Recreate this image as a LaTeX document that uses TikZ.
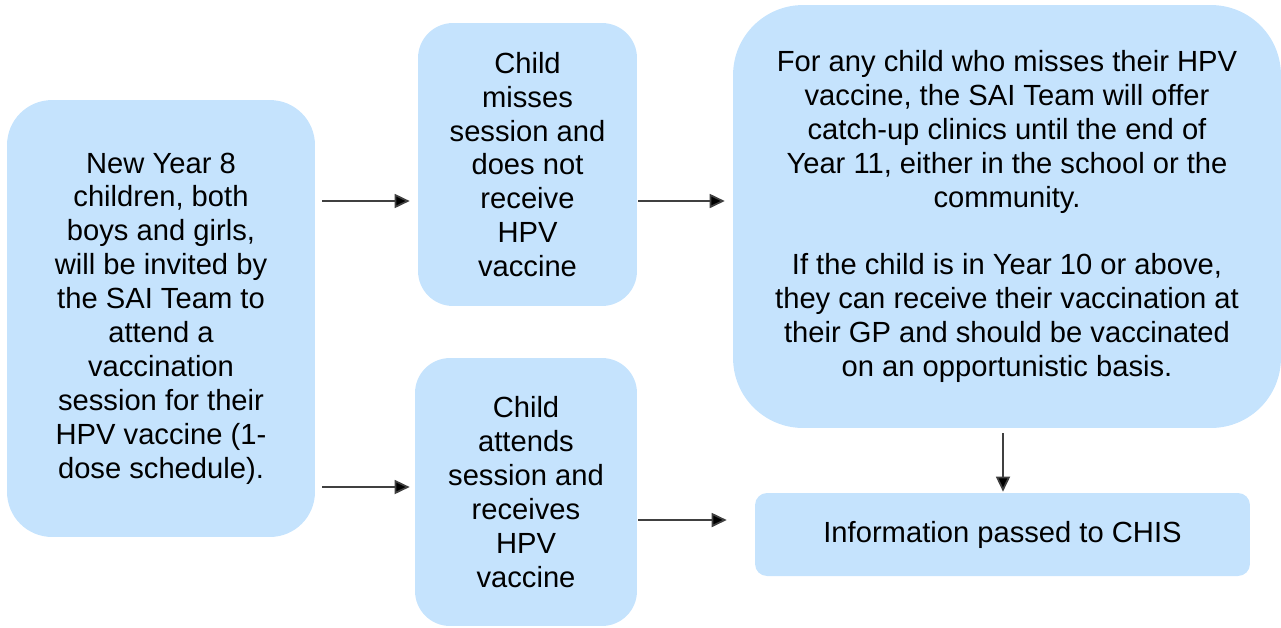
\documentclass[tikz,border=0pt]{standalone}
\usepackage{fontspec}
\setmainfont{Liberation Sans}
\usetikzlibrary{arrows.meta}
\definecolor{boxblue}{HTML}{C5E3FD}
\definecolor{linegray}{HTML}{404040}

\begin{document}
\begin{tikzpicture}[x=0.02cm, y=-0.02cm,
		box/.style={fill=boxblue, draw=none, inner sep=0pt, align=center,
			font=\fontsize{16.6}{19.3}\selectfont},
		conn/.style={draw=linegray, line width=1pt,
			-{Triangle[length=0.3cm, width=0.28cm, fill=black]}}]
		\useasboundingbox (0,0) rectangle (1281,627);
		% boxes
		\node[box, rounded corners=0.9cm, minimum width=6.16cm, minimum height=8.74cm] (newkids) at (161,318.5)
			{New Year 8\\children, both\\boys and girls,\\will be invited by\\the SAI Team to\\attend a\\vaccination\\session for their\\HPV vaccine (1-\\dose schedule).};
		\node[box, rounded corners=0.7cm, minimum width=4.38cm, minimum height=5.66cm] (misses) at (527.5,164.5)
			{Child\\misses\\session and\\does not\\receive\\HPV\\vaccine};
		\node[box, rounded corners=0.7cm, minimum width=4.44cm, minimum height=5.36cm] (attends) at (526,492)
			{Child\\attends\\session and\\receives\\HPV\\vaccine};
		\node[box, rounded corners=1.4cm, minimum width=10.96cm, minimum height=8.46cm] (catchup) at (1007,216.5)
			{For any child who misses their HPV\\vaccine, the SAI Team will offer\\catch-up clinics until the end of\\Year 11, either in the school or the\\community.\\[19.3pt]If the child is in Year 10 or above,\\they can receive their vaccination at\\their GP and should be vaccinated\\on an opportunistic basis.};
		\node[box, rounded corners=0.24cm, minimum width=9.9cm, minimum height=1.66cm] (chis) at (1002.5,534.5)
			{Information passed to CHIS};
		% arrows
		\coordinate (row1) at (0,201);
		\coordinate (row2) at (0,487);
		\coordinate (row3) at (0,520);
		\coordinate (col1) at (1003,0);
		\draw[conn, shorten <=0.14cm, shorten >=0.16cm] (newkids.east |- row1) -- (misses.west |- row1);
		\draw[conn, shorten <=0.14cm, shorten >=0.1cm] (newkids.east |- row2) -- (attends.west |- row2);
		\draw[conn, shorten <=0.02cm, shorten >=0.16cm] (misses.east |- row1) -- (catchup.west |- row1);
		\draw[conn, shorten <=0.02cm, shorten >=0.56cm] (attends.east |- row3) -- (chis.west |- row3);
		\draw[conn, shorten <=0.1cm, shorten >=0.02cm] (catchup.south -| col1) -- (chis.north -| col1);
\end{tikzpicture}
\end{document}
